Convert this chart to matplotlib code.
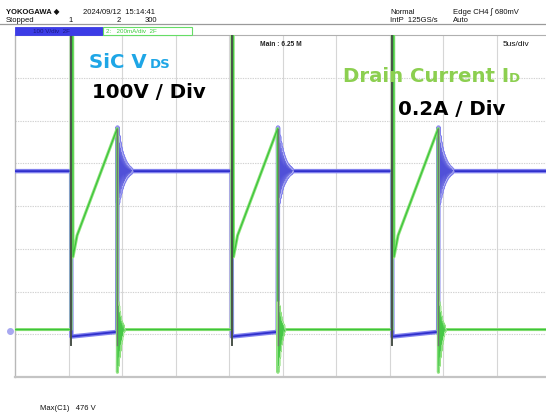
import matplotlib
matplotlib.use("Agg")
import matplotlib.pyplot as plt
from matplotlib.patches import Rectangle
from matplotlib.lines import Line2D

# ---------------- acquisition data ----------------
# switching instants (us)
turn_on = [5.25, 20.25, 35.25]
turn_off = [9.55, 24.55, 39.55]
record_end = 50.0

# CH1: drain-source voltage (V)
vds_blocking = 374
vds_on_start = -13
vds_on_end = -2
ring_v_dt = [0.00, 0.03, 0.08, 0.13, 0.18, 0.23, 0.28, 0.33, 0.38, 0.43,
             0.48, 0.53, 0.58, 0.63, 0.68, 0.73, 0.78, 0.83, 0.88, 0.93,
             0.98, 1.03, 1.08, 1.13, 1.18, 1.23, 1.28, 1.33, 1.40]
ring_v = [0, 476, 300, 455, 312, 440, 322, 428, 332, 418,
          340, 410, 346, 403, 351, 397, 356, 392, 360, 388,
          363, 385, 366, 382, 368, 380, 370, 377, 374]

# CH2: drain current (A)
ramp_dt = [0.00, 0.02, 0.17, 0.55, 4.30]
ramp_i = [0.00, 6.00, 0.34, 0.44, 0.94]
ring_i_dt = [0.00, 0.02, 0.06, 0.10, 0.14, 0.18, 0.22, 0.26, 0.30, 0.34,
             0.38, 0.42, 0.46, 0.50, 0.56, 0.62, 0.70]
ring_i = [0.94, -0.20, 0.13, -0.17, 0.11, -0.13, 0.08, -0.10, 0.06, -0.07,
          0.04, -0.05, 0.03, -0.03, 0.02, -0.01, 0.00]
edge_low_i = -0.07

# vertical settings
volts_per_div = 100
amps_per_div = 0.2
ch1_ground = 1.076
ch2_ground = 1.11
time_per_div = 5
n_xdiv, n_ydiv = 10, 8

max_c1 = 476


# ---------------- build the traces ----------------
def vds_trace():
    t, v = [0.0], [vds_blocking]
    for on, off in zip(turn_on, turn_off):
        t += [on, on + 0.02, off]
        v += [vds_blocking, vds_on_start, vds_on_end]
        t += [off + d for d in ring_v_dt]
        v += ring_v
    t.append(record_end)
    v.append(vds_blocking)
    return t, [ch1_ground + x / volts_per_div for x in v]


def id_trace():
    t, i = [0.0], [0.0]
    for on, off in zip(turn_on, turn_off):
        t += [on + d for d in ramp_dt]
        i += ramp_i
        t += [off + d for d in ring_i_dt]
        i += ring_i
    t.append(record_end)
    i.append(0.0)
    return t, [ch2_ground + x / amps_per_div for x in i]


def vds_rings():
    segs = []
    for off in turn_off:
        segs.append(([off + d for d in ring_v_dt[1:]],
                     [ch1_ground + x / volts_per_div for x in ring_v[1:]]))
    return segs


def id_rings():
    segs = []
    for off in turn_off:
        segs.append(([off + d for d in ring_i_dt[1:]],
                     [ch2_ground + x / amps_per_div for x in ring_i[1:]]))
    return segs


# ---------------- figure ----------------
W, H = 546, 412
fig = plt.figure(figsize=(W / 100, H / 100), dpi=100)
fig.patch.set_facecolor("white")


def fx(px):
    return px / W


def fy(py):
    return 1 - py / H


left, right, top, bottom = 15, 550, 35, 377
ax = fig.add_axes([fx(left), fy(bottom), (right - left) / W, (bottom - top) / H])
ax.set_xlim(0, n_xdiv * time_per_div)
ax.set_ylim(0, n_ydiv)
ax.set_xticks([])
ax.set_yticks([])
ax.spines["right"].set_visible(False)
ax.spines["left"].set_color("#b8b8b8")
ax.spines["left"].set_linewidth(1.0)
ax.spines["top"].set_color("#b0b0b0")
ax.spines["top"].set_linewidth(0.8)
ax.spines["bottom"].set_color("#c4c4c4")
ax.spines["bottom"].set_linewidth(1.6)

# graticule
for k in range(1, n_xdiv):
    ax.axvline(k * time_per_div, color="#d6d6d6", lw=0.8, zorder=1)
for k in range(1, n_ydiv):
    ax.axhline(k, color="#d2d2d2", lw=0.8, ls=(0, (1.2, 1.0)), zorder=1)

# CH1 (blue)
tv, yv = vds_trace()
ax.plot(tv, yv, color="#8282ee", lw=3.2, zorder=3, solid_joinstyle="round")
ax.plot(tv, yv, color="#3030cc", lw=1.3, zorder=3.2)
# fast ringing: thin strokes over a lighter envelope
for rt, ry in vds_rings():
    ax.plot(rt, ry, color="#b4b4f2", lw=1.6, zorder=3.3)
    ax.plot(rt, ry, color="#5050d8", lw=0.5, zorder=3.4)

# CH2 (green)
ti, yi = id_trace()
ax.plot(ti, yi, color="#8ee27a", lw=2.2, zorder=4)
ax.plot(ti, yi, color="#3cc43c", lw=0.9, zorder=4.2)
for rt, ry in id_rings():
    ax.plot(rt, ry, color="#b6ecaa", lw=1.2, zorder=4.3)
    ax.plot(rt, ry, color="#46c846", lw=0.5, zorder=4.4)

# switching edges drawn darker
for on, off in zip(turn_on, turn_off):
    y_lo = ch2_ground + edge_low_i / amps_per_div
    ax.plot([on, on], [y_lo, n_ydiv], color="#4a524a", lw=1.4, zorder=5)
    ax.plot([off, off], [y_lo, ch2_ground + ramp_i[-1] / amps_per_div],
            color="#707670", lw=1.0, zorder=5)

# CH1 ground marker
ax.plot([-0.45], [ch1_ground], marker="o", ms=4, color="#a8a8f0",
        clip_on=False, zorder=6)

# ---------------- header ----------------
small = dict(family=["Liberation Sans", "DejaVu Sans"], fontsize=5.5,
             color="#111111", va="baseline")
fig.text(fx(6), fy(14), "YOKOGAWA \u25c6", fontweight="bold", **small)
fig.text(fx(83), fy(14), "2024/09/12  15:14:41", **small)
fig.text(fx(6), fy(22), "Stopped", **small)
fig.text(fx(68), fy(22), "1", **small)
fig.text(fx(117), fy(22), "2", **small)
fig.text(fx(145), fy(22), "300", **small)
fig.text(fx(390), fy(14), "Normal", **small)
fig.text(fx(390), fy(22), "IntP  125GS/s", **small)
fig.text(fx(453), fy(14), "Edge CH4 \u222b 680mV", **small)
fig.text(fx(453), fy(22), "Auto", **small)
fig.add_artist(Line2D([0, 1], [fy(23.5), fy(23.5)], color="#9a9a9a", lw=0.9))

fig.add_artist(Rectangle((fx(15), fy(34.5)), fx(103) - fx(15), (34.5 - 27) / H,
                         transform=fig.transFigure, facecolor="#3c3ce6",
                         edgecolor="#3c3ce6", lw=0.6))
fig.add_artist(Rectangle((fx(103), fy(34.5)), fx(192) - fx(103), (34.5 - 27) / H,
                         transform=fig.transFigure, facecolor="white",
                         edgecolor="#66dd66", lw=0.8))
fig.text(fx(33), fy(33), "100 V/div  2F", family="Liberation Sans",
         fontsize=4.5, color="#1a1a80", va="baseline")
fig.text(fx(106), fy(33), "2:   200mA/div  2F", family="Liberation Sans",
         fontsize=4.5, color="#3ccc3c", va="baseline")

fig.text(fx(260), fy(46), "Main : 6.25 M", family="Liberation Sans",
         fontsize=4.8, fontweight="bold", color="#222222", va="baseline")
fig.text(fx(503), fy(45.5), "5us/div", family="Liberation Sans",
         fontsize=6, color="#111111", va="baseline")

fig.text(fx(40), fy(410), "Max(C1)   %d V" % max_c1, family="Liberation Sans",
         fontsize=5.5, color="#111111", va="baseline")

# ---------------- channel annotations ----------------
big = dict(family="DejaVu Sans", fontweight="bold", va="baseline")
cyan = "#1ea6e6"
lime = "#8ccf50"
fig.text(fx(89), fy(68.3), "SiC V", color=cyan, fontsize=14.2, **big)
fig.text(fx(150), fy(68.3), "DS", color=cyan, fontsize=9.5, **big)
fig.text(fx(92), fy(98.3), "100V / Div", color="black", fontsize=14.2, **big)
fig.text(fx(343), fy(81.5), "Drain Current I", color=lime, fontsize=14.2, **big)
fig.text(fx(509), fy(81.5), "D", color=lime, fontsize=9.5, **big)
fig.text(fx(398), fy(115), "0.2A / Div", color="black", fontsize=14.2, **big)

fig.savefig("out.png", dpi=100, facecolor="white")
